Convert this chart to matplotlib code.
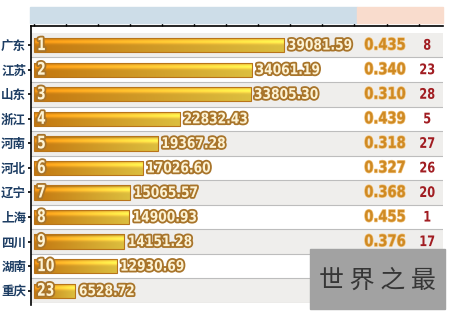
import matplotlib.pyplot as plt
import matplotlib.patheffects as pe
from matplotlib.patches import Rectangle
from matplotlib.transforms import Affine2D
import numpy as np

plt.rcParams['font.family'] = ['Noto Sans CJK SC', 'DejaVu Sans']

provinces = ["广东", "江苏", "山东", "浙江", "河南", "河北", "辽宁", "上海", "四川", "湖南", "重庆"]
ranks = ["1", "2", "3", "4", "5", "6", "7", "8", "9", "10", "23"]
values = [39081.59, 34061.19, 33805.30, 22832.43, 19367.28, 17026.60,
          15065.57, 14900.93, 14151.28, 12930.69, 6528.72]
ratios = ["0.435", "0.340", "0.310", "0.439", "0.318", "0.327", "0.368", "0.455", "0.376", None, None]
ratio_ranks = ["8", "23", "28", "5", "27", "26", "20", "1", "17", None, None]


class Squeeze(pe.AbstractPathEffect):
    # squeeze text horizontally to fake a condensed face
    def __init__(self, sx, effects, center=False):
        super().__init__()
        self.sx = sx
        self.effects = effects
        self.center = center

    def draw_path(self, renderer, gc, tpath, affine, rgbFace=None):
        cx = 0
        if self.center and len(tpath.vertices):
            cx = tpath.vertices[:, 0].max() / 2
        a = Affine2D().translate(-cx, 0).scale(self.sx, 1).translate(cx, 0) + affine
        for e in self.effects:
            e.draw_path(renderer, gc, tpath, a, rgbFace)


W, H = 450, 315
fig = plt.figure(figsize=(W / 100, H / 100), dpi=100)
fig.patch.set_facecolor("white")

# header band
fig.patches.append(Rectangle((30 / W, 1 - 23 / H), (357 - 30) / W, 16 / H,
                             transform=fig.transFigure, color="#cddde8", zorder=0))
fig.patches.append(Rectangle((357 / W, 1 - 23 / H), (443 - 357) / W, 16 / H,
                             transform=fig.transFigure, color="#f9dccd", zorder=0))

ax = fig.add_axes([31 / W, 1 - 303 / H, (443 - 31) / W, (303 - 26) / H])
n = len(provinces)
y = np.arange(n)

for i in y:
    ax.axhspan(i - 0.5, i + 0.5, color="#efeeec" if i % 2 == 0 else "white", zorder=0, lw=0)
    ax.axhline(i + 0.5, color="#bdbdbd", lw=0.8, zorder=0.5)

# bars with gradient fill
bh = 0.58
bars = ax.barh(y, values, height=bh, color="none", edgecolor="#b8741a", lw=0.8, zorder=3)
nx, ny = 120, 24
xs = np.linspace(0, 1, nx)
ys = np.linspace(0, 1, ny)
c0 = np.array([0.87, 0.53, 0.07])
c1 = np.array([0.98, 0.85, 0.28])
for b in bars:
    grad = c0[None, None, :] * (1 - xs[None, :, None]) + c1[None, None, :] * xs[None, :, None]
    shade = 0.88 + 0.28 * np.exp(-((ys - 0.3) / 0.15) ** 2) - 0.12 * (ys < 0.12)
    img = np.clip(grad * shade[:, None, None], 0, 1)
    x0, y0 = b.get_x(), b.get_y()
    im = ax.imshow(img, extent=(x0, x0 + b.get_width(), y0 + b.get_height(), y0),
                   aspect="auto", zorder=2, interpolation="bilinear")
    im.set_clip_path(b)

outline = [pe.Stroke(linewidth=2.6, foreground="#a8742a"), pe.Normal()]
for i, (v, r) in enumerate(zip(values, ranks)):
    ax.annotate(r, (0, i), xytext=(2.5, 0), textcoords="offset points",
                ha="left", va="center", fontsize=12.5, fontweight="bold",
                family="DejaVu Sans", color="#fdf3d4",
                path_effects=[Squeeze(0.72, outline)], zorder=5)
    ax.annotate(f"{v:.2f}", (v, i), xytext=(2.5, 0), textcoords="offset points",
                ha="left", va="center", fontsize=10.5, fontweight="bold",
                family="DejaVu Sans", color="#fdf3d4",
                path_effects=[Squeeze(0.84, outline)], zorder=5)

tr = ax.get_yaxis_transform()
for i in range(n):
    if ratios[i] is not None:
        ax.text(0.809, i, ratios[i], transform=tr, ha="left", va="center",
                fontsize=11.5, fontweight="bold", family="DejaVu Sans",
                color="#cf8a24", zorder=5,
                path_effects=[Squeeze(0.82, [pe.Stroke(linewidth=1.0, foreground="#f1c27a"),
                                             pe.Normal()])])
    if ratio_ranks[i] is not None:
        ax.text(0.962, i, ratio_ranks[i], transform=tr, ha="center", va="center",
                fontsize=10.5, fontweight="bold", family="DejaVu Sans",
                color="#a11d22", zorder=5,
                path_effects=[Squeeze(0.78, [pe.Normal()], center=True)])

ax.set_xlim(-400, 63800)
ax.set_ylim(n - 0.5, -0.78)
ax.set_xticks(np.arange(0, 63801, 5000))
ax.xaxis.tick_top()
ax.tick_params(axis="x", direction="out", length=3, width=1, labeltop=False, color="black")
ax.set_yticks(y)
ax.set_yticklabels(provinces, fontsize=9, fontweight="bold", color="#1d3d63")
ax.tick_params(axis="y", direction="out", length=2, width=1.2, pad=1.5, color="black")
for s in ["right", "bottom"]:
    ax.spines[s].set_visible(False)
ax.spines["top"].set_linewidth(1.2)
ax.spines["left"].set_linewidth(1.2)
ax.spines["left"].set_bounds(n - 0.4, -0.78)

# watermark
fig.patches.append(Rectangle((310 / W, 1 - 309 / H), (445 - 310) / W, (309 - 249) / H,
                             transform=fig.transFigure, color="#a2a2a2", zorder=10))
fig.text(377 / W, 1 - 281 / H, "世 界 之 最", ha="center", va="center",
         fontsize=18, color="#363636", zorder=11)

fig.savefig("out.png", dpi=100)
